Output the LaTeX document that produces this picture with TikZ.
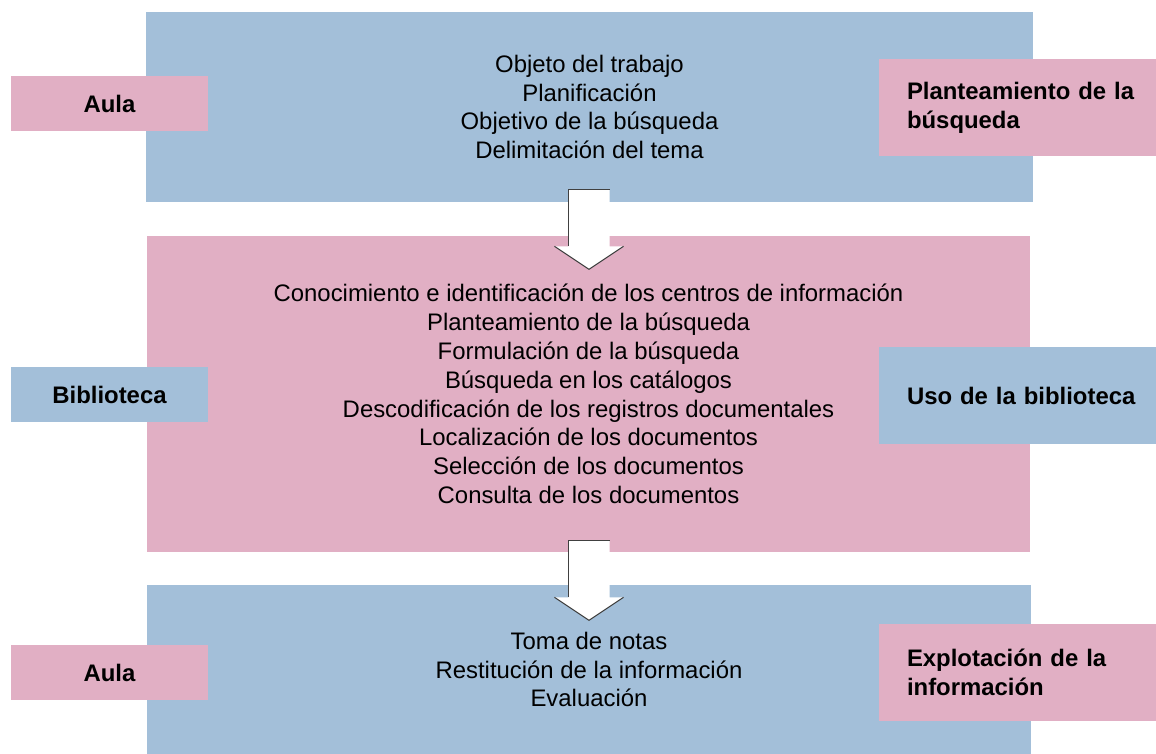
\documentclass[tikz,border=0pt]{standalone}
\usepackage{fontspec}
\setmainfont{Liberation Sans}
\usepackage{tikz}

\definecolor{boxblue}{RGB}{163,191,217}
\definecolor{boxpink}{RGB}{225,175,196}

\tikzset{
    downarrow/.pic={
        \fill[white] (-0.41,0) -- (0.41,0) -- (0.41,-1.14) -- (0.69,-1.14) -- (0,-1.6)
            -- (-0.69,-1.14) -- (-0.41,-1.14) -- cycle;
        \draw[arrowedge] (0.41,0) -- (-0.41,0) -- (-0.41,-1.14);
        \draw[arrowedge] (-0.69,-1.14) -- (0,-1.6) -- (0.69,-1.14);
    }
}

\begin{document}
\begin{tikzpicture}[
    font=\fontsize{13.6}{16.4}\selectfont,
    stage/.style={inner sep=0pt, align=center},
    place/.style={inner sep=0pt, minimum width=3.94cm, minimum height=1.1cm, font=\fontsize{13.6}{16.4}\selectfont\bfseries},
    task/.style={inner xsep=0.56cm, inner ysep=0pt, text width=4.42cm, minimum height=1.94cm, align=left, font=\fontsize{13.6}{16.4}\selectfont\bfseries},
    arrowedge/.style={draw=black!75, line width=0.6pt}
]
    \useasboundingbox (0,0) rectangle (23.12,15.08);

    % the three stages
    \node[stage, fill=boxblue, minimum width=17.74cm, minimum height=3.8cm] (plan) at (11.79,12.94)
        {Objeto del trabajo\\ Planificación\\ Objetivo de la búsqueda\\ Delimitación del tema};
    \node[stage, fill=boxpink, minimum width=17.66cm, minimum height=6.32cm] (biblio) at (11.77,7.2)
        {Conocimiento e identificación de los centros de información\\ Planteamiento de la búsqueda\\
         Formulación de la búsqueda\\ Búsqueda en los catálogos\\ Descodificación de los registros documentales\\
         Localización de los documentos\\ Selección de los documentos\\ Consulta de los documentos};
    \node[stage, fill=boxblue, minimum width=17.68cm, minimum height=3.38cm] (explot) at (11.78,1.69)
        {Toma de notas\\ Restitución de la información\\ Evaluación};

    % where
    \node[place, fill=boxpink] (aulaA) at (2.19,13.0) {Aula};
    \node[place, fill=boxblue] (bibliotecaL) at (2.19,7.19) {Biblioteca};
    \node[place, fill=boxpink] (aulaB) at (2.19,1.62) {Aula};

    % what
    \node[task, fill=boxpink] (planLabel) at (20.35,12.93) {\mbox{Planteamiento de la}\\ búsqueda};
    \node[task, fill=boxblue] (usoLabel) at (20.35,7.17) {\mbox{Uso de la biblioteca}};
    \node[task, fill=boxpink] (explotLabel) at (20.35,1.63) {\mbox{Explotación de la}\\ información};

    \coordinate (arrA) at ([xshift=-0.01cm, yshift=0.26cm]plan.south);
    \coordinate (arrB) at ([xshift=0.01cm, yshift=0.24cm]biblio.south);
    \pic at (arrA) {downarrow};
    \pic at (arrB) {downarrow};
\end{tikzpicture}
\end{document}
